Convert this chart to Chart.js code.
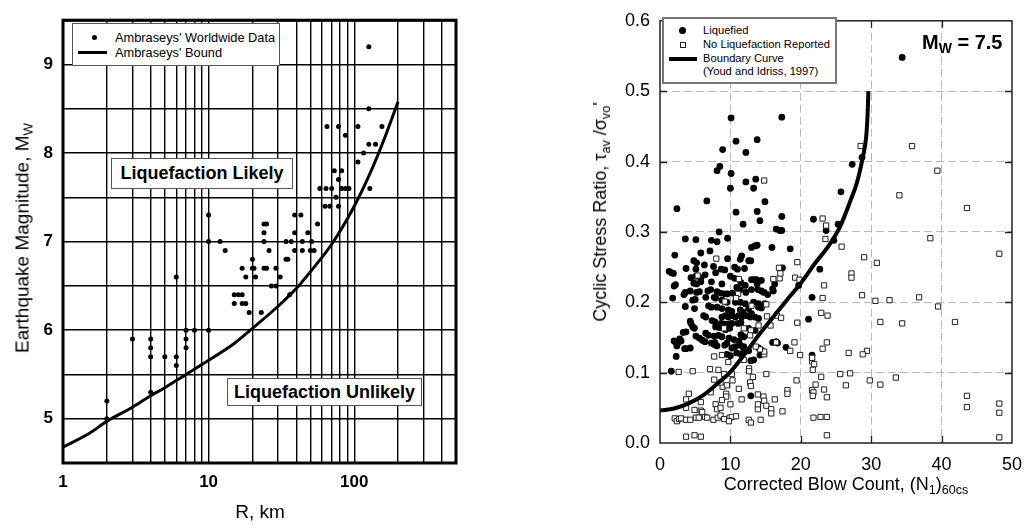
<!DOCTYPE html>
<html><head><meta charset="utf-8">
<script src="https://cdn.jsdelivr.net/npm/chart.js@4.4.1/dist/chart.umd.min.js"></script>
<style>
html,body{margin:0;padding:0;background:#fff;}
#wrap{position:relative;width:1033px;height:529px;overflow:hidden;font-family:"Liberation Sans",Arial,Helvetica,sans-serif;color:#000;background:#fff;}
canvas{position:absolute;top:0;}
.abs{position:absolute;white-space:nowrap;line-height:1;}
.rot{transform:translate(-50%,-50%) rotate(-90deg);}
.ctr{transform:translate(-50%,-50%);}
.vc{transform:translateY(-50%);}
sub{font-size:70%;vertical-align:-0.28em;line-height:0;}
.box{background:#fff;box-sizing:border-box;}
</style>
</head>
<body>
<div id="wrap">
  <canvas id="cL" width="470" height="529" style="left:0;width:470px;height:529px"></canvas>
  <canvas id="cR" width="473" height="529" style="left:560px;width:473px;height:529px"></canvas>

  <!-- left chart texts -->
  <div class="abs rot" style="left:22px;top:238px;font-size:19px">Earthquake Magnitude, M<sub>W</sub></div>
  <div class="abs ctr" style="left:260px;top:511px;font-size:19px">R, km</div>
  <div class="abs box" style="left:72px;top:23px;width:208px;height:43px;border:1px solid #555"></div>
  <div class="abs" style="left:91.5px;top:35px;width:5px;height:5px;border-radius:50%;background:#000"></div>
  <div class="abs" style="left:78px;top:51px;width:29px;height:3px;background:#000"></div>
  <div class="abs vc" style="left:115px;top:37.5px;font-size:12.8px">Ambraseys' Worldwide Data</div>
  <div class="abs vc" style="left:115px;top:52.5px;font-size:12.8px">Ambraseys' Bound</div>
  <div class="abs box" style="left:111px;top:158px;width:182px;height:31px;border:1px solid #555;font-weight:bold;font-size:18px;text-align:center;line-height:29px">Liquefaction Likely</div>
  <div class="abs box" style="left:227px;top:378px;width:195px;height:28px;border:1px solid #555;font-weight:bold;font-size:18px;text-align:center;line-height:26px">Liquefaction Unlikely</div>

  <!-- right chart texts -->
  <div class="abs rot" style="left:600px;top:212px;font-size:18px">Cyclic Stress Ratio, τ<sub>av</sub> /σ<sub>vo</sub>'</div>
  <div class="abs ctr" style="left:846px;top:484px;font-size:18px">Corrected Blow Count, (N<sub>1</sub>)<sub>60cs</sub></div>
  <div class="abs box" style="left:662px;top:17px;width:175px;height:67px;border:2px solid #777"></div>
  <div class="abs" style="left:679px;top:27px;width:7px;height:7px;border-radius:50%;background:#000"></div>
  <div class="abs" style="left:680px;top:41.5px;width:4px;height:4px;border:1px solid #222;background:#fff"></div>
  <div class="abs" style="left:669px;top:56.5px;width:28px;height:4px;background:#000"></div>
  <div class="abs vc" style="left:703px;top:31px;font-size:11.2px">Liquefied</div>
  <div class="abs vc" style="left:703px;top:44.5px;font-size:11.2px">No Liquefaction Reported</div>
  <div class="abs vc" style="left:703px;top:58.5px;font-size:11.2px">Boundary Curve</div>
  <div class="abs vc" style="left:703px;top:72px;font-size:11.2px">(Youd and Idriss, 1997)</div>
  <div class="abs vc" style="left:922px;top:42px;font-size:20px;font-weight:bold">M<sub>W</sub> = 7.5</div>
</div>

<script>
// ---------------- LEFT CHART DATA ----------------
const ambrasData = [
  [2,5.2],[2,5.0],[3,5.9],[4,5.9],[4,5.8],[4,5.7],[4,5.3],[5,5.7],[6,6.6],[6,5.7],[6,5.6],
  [7,6.0],[7,5.9],[7,5.8],[8,6.0],[10,7.3],[10,7.0],[10,6.0],[12,7.0],[13,6.9],
  [15,6.4],[16,6.4],[17,6.4],[15,6.3],[17,6.3],[18,6.3],[17,6.7],[18,6.6],[19,6.2],
  [20,6.8],[20,6.7],[20.5,6.7],[21,6.6],[23,6.2],[24,7.2],[25,7.2],[24,7.1],[24,7.0],
  [24,6.7],[25,6.7],[26,6.9],[27,6.5],[29,6.5],[29,6.7],[31,6.6],[34,7.0],[34,6.8],
  [35,6.8],[36,6.4],[37,7.0],[39,7.3],[39,7.1],[39,6.9],[43,7.3],[44,7.0],[44,6.9],
  [48,7.1],[51,7.0],[50,6.9],[53,6.9],[56,7.2],[58,7.6],[64,7.6],[63,7.4],[68,7.4],
  [65,8.3],[70,7.6],[73,7.8],[75,7.5],[78,7.7],[78,8.3],[78,7.4],[82,7.8],[82,7.6],
  [87,7.6],[92,7.6],[87,8.2],[106,8.3],[106,7.9],[116,8.0],[126,9.2],[126,8.5],
  [126,8.1],[128,7.6],[140,8.1],[155,8.3]
];
const boundR = [1, 1.5, 2, 3, 4, 5, 7, 10, 15, 20, 30, 40, 50, 70, 100, 130, 160, 200];
const boundM = [4.68, 4.83, 4.97, 5.13, 5.26, 5.35, 5.50, 5.66, 5.85, 6.02, 6.27, 6.47, 6.66, 6.97, 7.40, 7.79, 8.15, 8.58];
const leftXTicks = [1,2,3,4,5,6,7,8,9,10,20,30,40,50,60,70,80,90,100,200,300,400,500];
const leftXLabels = {1:'1', 10:'10', 100:'100'};
const leftYTicks = [4.5,5,5.5,6,6.5,7,7.5,8,8.5,9,9.5];
const leftYLabels = {5:'5', 6:'6', 7:'7', 8:'8', 9:'9'};

// ---------------- RIGHT CHART DATA ----------------
const liquefied = [
  [34.4,0.548],[10.1,0.462],[17.3,0.463],[10.8,0.429],[13.8,0.431],[8.9,0.417],[12.2,0.413],
  [8.1,0.387],[8.5,0.393],[10.1,0.383],[27.3,0.396],[28.7,0.406],[13.6,0.375],[12.2,0.371],
  [10.0,0.362],[13.3,0.362],[25.7,0.357],[14.9,0.343],[6.65,0.344],[2.4,0.333],[10.8,0.328],
  [13.8,0.329],[14.2,0.316],[17.3,0.322],[11.8,0.311],[21.8,0.318],[25.3,0.311],[16.5,0.304],
  [17.0,0.302],[17.3,0.302],[23.6,0.302],[8.4,0.300],[3.6,0.290],[5.1,0.289],[9.6,0.291],
  [7.3,0.288],[8.1,0.286],[24.7,0.288],[15.9,0.278],[18.5,0.276],[13.5,0.280],[13.8,0.281],
  [7.1,0.273],[13.0,0.278],[5.8,0.270],[2.1,0.267],[11.6,0.266],[11.4,0.261],[9.6,0.262],
  [12.6,0.259],[12.9,0.259],[4.8,0.259],[5.2,0.256],[6.3,0.253],[7.6,0.251],[17.4,0.249],
  [22.7,0.247],[1.3,0.244],[1.6,0.242],[3.7,0.248],[5.1,0.247],[1.9,0.241],[8.7,0.247],
  [9.2,0.246],[10.6,0.250],[11.0,0.247],[12.0,0.248],[7.9,0.242],[10.0,0.237],[10.6,0.234],
  [5.1,0.237],[5.8,0.235],[4.4,0.235],[6.4,0.239],[13.0,0.232],[13.4,0.232],[13.7,0.232],
  [14.4,0.231],[11.5,0.228],[4.8,0.227],[5.2,0.226],[2.2,0.225],[2.0,0.223],[5.8,0.229],
  [7.3,0.229],[8.8,0.226],[13.8,0.226],[16.3,0.226],[12.1,0.224],[19.7,0.224],[10.9,0.221],
  [16.0,0.219],[3.6,0.214],[4.3,0.216],[5.2,0.214],[5.6,0.215],[6.8,0.216],[7.2,0.218],
  [8.1,0.215],[8.6,0.213],[9.2,0.212],[9.6,0.212],[10.3,0.213],[11.4,0.218],[12.2,0.214],
  [13.0,0.218],[13.9,0.218],[14.4,0.216],[14.8,0.214],[15.3,0.211],[16.1,0.216],[3.4,0.211],
  [1.8,0.206],[21.6,0.207],[6.5,0.207],[7.7,0.207],[7.9,0.206],[4.65,0.203],[5.0,0.204],
  [8.8,0.203],[9.5,0.200],[10.7,0.200],[11.4,0.200],[12.1,0.198],[13.3,0.200],[14.0,0.198],
  [14.9,0.198],[3.6,0.194],[6.9,0.195],[7.3,0.193],[4.9,0.191],[8.1,0.193],[8.8,0.191],
  [9.7,0.189],[10.2,0.187],[11.4,0.189],[11.8,0.186],[12.6,0.191],[14.0,0.193],[14.4,0.192],
  [13.0,0.184],[6.2,0.181],[6.5,0.179],[8.8,0.179],[9.3,0.181],[9.7,0.179],[10.2,0.181],
  [10.7,0.179],[11.2,0.181],[11.6,0.179],[12.3,0.181],[12.8,0.179],[13.5,0.179],[14.0,0.177],
  [21.1,0.176],[4.3,0.173],[4.4,0.170],[7.4,0.174],[7.8,0.172],[8.7,0.170],[9.2,0.169],
  [9.8,0.169],[10.2,0.170],[11.1,0.170],[11.5,0.171],[4.65,0.165],[4.9,0.163],[7.9,0.165],
  [8.4,0.164],[9.3,0.161],[9.9,0.163],[12.6,0.163],[13.5,0.160],[6.5,0.156],[6.9,0.153],
  [3.3,0.157],[3.7,0.158],[5.1,0.152],[5.6,0.149],[6.0,0.146],[6.4,0.144],[7.7,0.152],
  [8.3,0.153],[8.8,0.151],[11.5,0.154],[11.9,0.151],[9.8,0.149],[10.5,0.147],[11.2,0.145],
  [2.6,0.143],[2.0,0.145],[2.3,0.142],[2.8,0.148],[3.0,0.145],[7.3,0.142],[7.8,0.143],
  [4.3,0.135],[3.7,0.134],[3.5,0.134],[2.4,0.138],[2.3,0.123],[1.6,0.102],[7.7,0.140],
  [8.1,0.138],[9.2,0.139],[9.5,0.142],[10.2,0.135],[10.7,0.137],[11.4,0.139],[11.9,0.137],
  [16.0,0.143],[16.5,0.144],[16.7,0.142],[17.9,0.136],[14.0,0.135],[14.4,0.132],[14.2,0.125],
  [11.9,0.133],[12.6,0.131],[9.5,0.126],[10.0,0.124],[10.9,0.128],[11.5,0.126],[13.3,0.118],
  [12.9,0.117],[21.6,0.125],[12.9,0.067]
];
const noLiquefaction = [
  [35.8,0.422],[28.5,0.422],[39.4,0.387],[34.0,0.352],[43.6,0.334],[14.8,0.373],[23.1,0.319],
  [23.6,0.309],[23.5,0.290],[25.8,0.279],[38.4,0.291],[48.2,0.269],[29.0,0.264],[30.8,0.256],
  [19.5,0.257],[8.0,0.262],[16.9,0.249],[17.0,0.234],[27.2,0.241],[27.2,0.235],[19.2,0.235],
  [19.8,0.232],[11.2,0.233],[17.1,0.241],[16.1,0.233],[23.3,0.224],[5.35,0.238],[11.1,0.212],
  [10.8,0.206],[28.7,0.210],[23.1,0.206],[36.8,0.207],[30.6,0.202],[32.6,0.203],[9.2,0.201],
  [13.0,0.195],[15.1,0.197],[39.5,0.194],[15.2,0.180],[16.6,0.181],[22.9,0.185],[23.8,0.181],
  [19.5,0.171],[31.3,0.172],[34.4,0.170],[41.9,0.172],[17.2,0.178],[15.7,0.167],[14.0,0.167],
  [11.9,0.163],[12.9,0.160],[12.8,0.153],[9.1,0.163],[16.5,0.143],[19.1,0.143],[23.7,0.143],
  [23.1,0.134],[18.5,0.131],[19.9,0.125],[26.8,0.128],[29.4,0.131],[28.8,0.126],[14.8,0.126],
  [14.8,0.130],[14.2,0.133],[13.6,0.137],[7.7,0.123],[8.8,0.125],[9.7,0.115],[11.9,0.118],
  [21.6,0.116],[21.6,0.121],[21.9,0.112],[2.65,0.101],[4.65,0.102],[7.1,0.105],[8.3,0.104],
  [7.7,0.090],[9.1,0.098],[10.2,0.098],[12.65,0.106],[12.65,0.102],[15.1,0.098],[13.2,0.094],
  [10.3,0.089],[12.8,0.086],[8.9,0.080],[9.5,0.082],[8.6,0.086],[21.7,0.104],[22.9,0.094],
  [25.6,0.098],[27.0,0.099],[19.4,0.089],[29.8,0.089],[33.5,0.093],[26.4,0.082],[31.3,0.083],
  [22.1,0.083],[11.2,0.077],[12.9,0.081],[4.1,0.070],[7.2,0.072],[9.4,0.070],[9.4,0.066],
  [18.1,0.075],[18.1,0.070],[21.6,0.075],[21.8,0.072],[23.3,0.076],[14.7,0.066],[3.7,0.062],
  [5.8,0.058],[7.9,0.055],[8.8,0.061],[10.0,0.055],[11.6,0.062],[13.9,0.069],[14.8,0.060],
  [16.3,0.062],[21.7,0.067],[23.7,0.065],[43.6,0.067],[43.6,0.051],[48.2,0.056],[48.2,0.043],
  [48.2,0.008],[3.7,0.050],[4.9,0.047],[5.8,0.046],[6.0,0.044],[8.1,0.048],[8.6,0.050],
  [13.9,0.048],[13.9,0.055],[15.1,0.053],[15.8,0.048],[15.8,0.042],[17.4,0.045],[2.1,0.035],
  [2.4,0.031],[2.7,0.034],[3.0,0.035],[3.7,0.033],[4.3,0.033],[5.1,0.036],[5.5,0.036],
  [6.4,0.037],[6.7,0.036],[7.6,0.033],[8.2,0.036],[8.6,0.039],[9.1,0.034],[9.9,0.036],
  [10.2,0.037],[10.8,0.038],[9.8,0.031],[12.6,0.033],[12.9,0.029],[14.3,0.033],[21.8,0.036],
  [22.8,0.037],[23.7,0.037],[3.7,0.009],[4.9,0.011],[5.8,0.009],[23.7,0.011]
];
const curveN   = [0, 2, 4, 6, 8, 10, 12, 14, 16, 18, 20, 22, 24, 25.6, 27, 28, 28.8, 29.3, 29.5, 29.6];
const curveCSR = [0.046, 0.049, 0.056, 0.067, 0.083, 0.101, 0.126, 0.153, 0.178, 0.203, 0.227, 0.255, 0.281, 0.308, 0.343, 0.371, 0.406, 0.436, 0.47, 0.500];
const rightXTicks = [0,10,20,30,40,50];
const rightYTicks = [0,0.1,0.2,0.3,0.4,0.5,0.6];
const rightYLabels = ['0.0','0.1','0.2','0.3','0.4','0.5','0.6'];

// ---------------- COMMON ----------------
const FONT = '"Liberation Sans", Arial, Helvetica, sans-serif';
Chart.defaults.font.family = FONT;
Chart.defaults.color = '#000';

const frameLeft = {
  id: 'frameLeft',
  afterDatasetsDraw(chart) {
    const {ctx, chartArea: a} = chart;
    ctx.save();
    ctx.strokeStyle = '#000';
    ctx.lineWidth = 3;
    ctx.strokeRect(a.left, a.top, a.right - a.left, a.bottom - a.top);
    ctx.restore();
  }
};

const frameRight = {
  id: 'frameRight',
  afterDatasetsDraw(chart) {
    const {ctx, chartArea: a, scales} = chart;
    ctx.save();
    ctx.strokeStyle = '#222';
    ctx.lineWidth = 1.5;
    ctx.strokeRect(a.left, a.top, a.right - a.left, a.bottom - a.top);
    ctx.lineWidth = 1.3;
    ctx.beginPath();
    const L = 7;
    rightXTicks.slice(1, -1).forEach(v => {
      const px = Math.round(scales.x.getPixelForValue(v)) + 0.5;
      ctx.moveTo(px, a.bottom); ctx.lineTo(px, a.bottom - L);
      ctx.moveTo(px, a.top); ctx.lineTo(px, a.top + L);
    });
    rightYTicks.slice(1, -1).forEach(v => {
      const py = Math.round(scales.y.getPixelForValue(v)) + 0.5;
      ctx.moveTo(a.left, py); ctx.lineTo(a.left + L, py);
      ctx.moveTo(a.right, py); ctx.lineTo(a.right - L, py);
    });
    ctx.stroke();
    ctx.restore();
  }
};

// ---------------- LEFT CHART ----------------
new Chart(document.getElementById('cL'), {
  type: 'scatter',
  data: {
    datasets: [
      {
        type: 'line',
        label: "Ambraseys' Bound",
        data: boundR.map((r, i) => ({x: r, y: boundM[i]})),
        borderColor: '#000', borderWidth: 3, pointRadius: 0,
        cubicInterpolationMode: 'monotone', fill: false, order: 0
      },
      {
        label: "Ambraseys' Worldwide Data",
        data: ambrasData.map(p => ({x: p[0], y: p[1]})),
        pointRadius: 2.5, pointBackgroundColor: '#000', backgroundColor: '#000',
        borderWidth: 0, pointBorderWidth: 0, order: 1
      }
    ]
  },
  options: {
    responsive: false, animation: false, devicePixelRatio: 1,
    layout: {padding: {left: 0, top: 11, right: 14, bottom: 0}},
    plugins: {legend: {display: false}, tooltip: {enabled: false}},
    events: [],
    scales: {
      x: {
        type: 'logarithmic', min: 1, max: 500,
        afterBuildTicks: s => { s.ticks = leftXTicks.map(v => ({value: v})); },
        afterFit: s => { s.height = 66; },
        grid: {color: '#000', lineWidth: 1.4, drawTicks: false},
        border: {display: false},
        ticks: {
          autoSkip: false, maxRotation: 0, padding: 9,
          font: {size: 17, weight: 'bold'}, color: '#000',
          callback: v => leftXLabels[v] || ''
        }
      },
      y: {
        type: 'linear', min: 4.5, max: 9.5,
        afterBuildTicks: s => { s.ticks = leftYTicks.map(v => ({value: v})); },
        afterFit: s => { s.width = 63; },
        grid: {color: '#000', lineWidth: 1.4, drawTicks: false},
        border: {display: false},
        ticks: {
          autoSkip: false, padding: 10,
          font: {size: 17, weight: 'bold'}, color: '#000',
          callback: v => leftYLabels[v] || ''
        }
      }
    }
  },
  plugins: [frameLeft]
});

// ---------------- RIGHT CHART ----------------
new Chart(document.getElementById('cR'), {
  type: 'scatter',
  data: {
    datasets: [
      {
        type: 'line',
        label: 'Boundary Curve (Youd and Idriss, 1997)',
        data: curveN.map((n, i) => ({x: n, y: curveCSR[i]})),
        borderColor: '#000', borderWidth: 4, pointRadius: 0,
        cubicInterpolationMode: 'monotone', fill: false, order: 0
      },
      {
        label: 'No Liquefaction Reported',
        data: noLiquefaction.map(p => ({x: p[0], y: p[1]})),
        pointStyle: 'rect', pointRadius: 3.7,
        pointBackgroundColor: '#fff', pointBorderColor: '#222', pointBorderWidth: 1,
        order: 1
      },
      {
        label: 'Liquefied',
        data: liquefied.map(p => ({x: p[0], y: p[1]})),
        pointRadius: 3.4, pointBackgroundColor: '#000', pointBorderWidth: 0,
        order: 2
      }
    ]
  },
  options: {
    responsive: false, animation: false, devicePixelRatio: 1,
    layout: {padding: {left: 0, top: 15, right: 15, bottom: 0}},
    plugins: {legend: {display: false}, tooltip: {enabled: false}},
    events: [],
    scales: {
      x: {
        type: 'linear', min: 0, max: 50,
        afterBuildTicks: s => { s.ticks = rightXTicks.map(v => ({value: v})); },
        afterFit: s => { s.height = 86; },
        grid: {
          color: c => (c.tick && (c.tick.value === 0 || c.tick.value === 50)) ? 'rgba(0,0,0,0)' : '#b8b8b8',
          lineWidth: 1, drawTicks: false
        },
        border: {display: false, dash: [8, 4]},
        ticks: {autoSkip: false, maxRotation: 0, padding: 11, font: {size: 18}, color: '#000'}
      },
      y: {
        type: 'linear', min: 0, max: 0.6,
        afterBuildTicks: s => { s.ticks = rightYTicks.map(v => ({value: v})); },
        afterFit: s => { s.width = 100; },
        grid: {
          color: c => (c.tick && (c.tick.value === 0 || Math.abs(c.tick.value - 0.6) < 1e-9)) ? 'rgba(0,0,0,0)' : '#b8b8b8',
          lineWidth: 1, drawTicks: false
        },
        border: {display: false, dash: [8, 4]},
        ticks: {
          autoSkip: false, padding: 10, font: {size: 18}, color: '#000',
          callback: (v, i) => rightYLabels[i]
        }
      }
    }
  },
  plugins: [frameRight]
});
</script>
</body></html>
